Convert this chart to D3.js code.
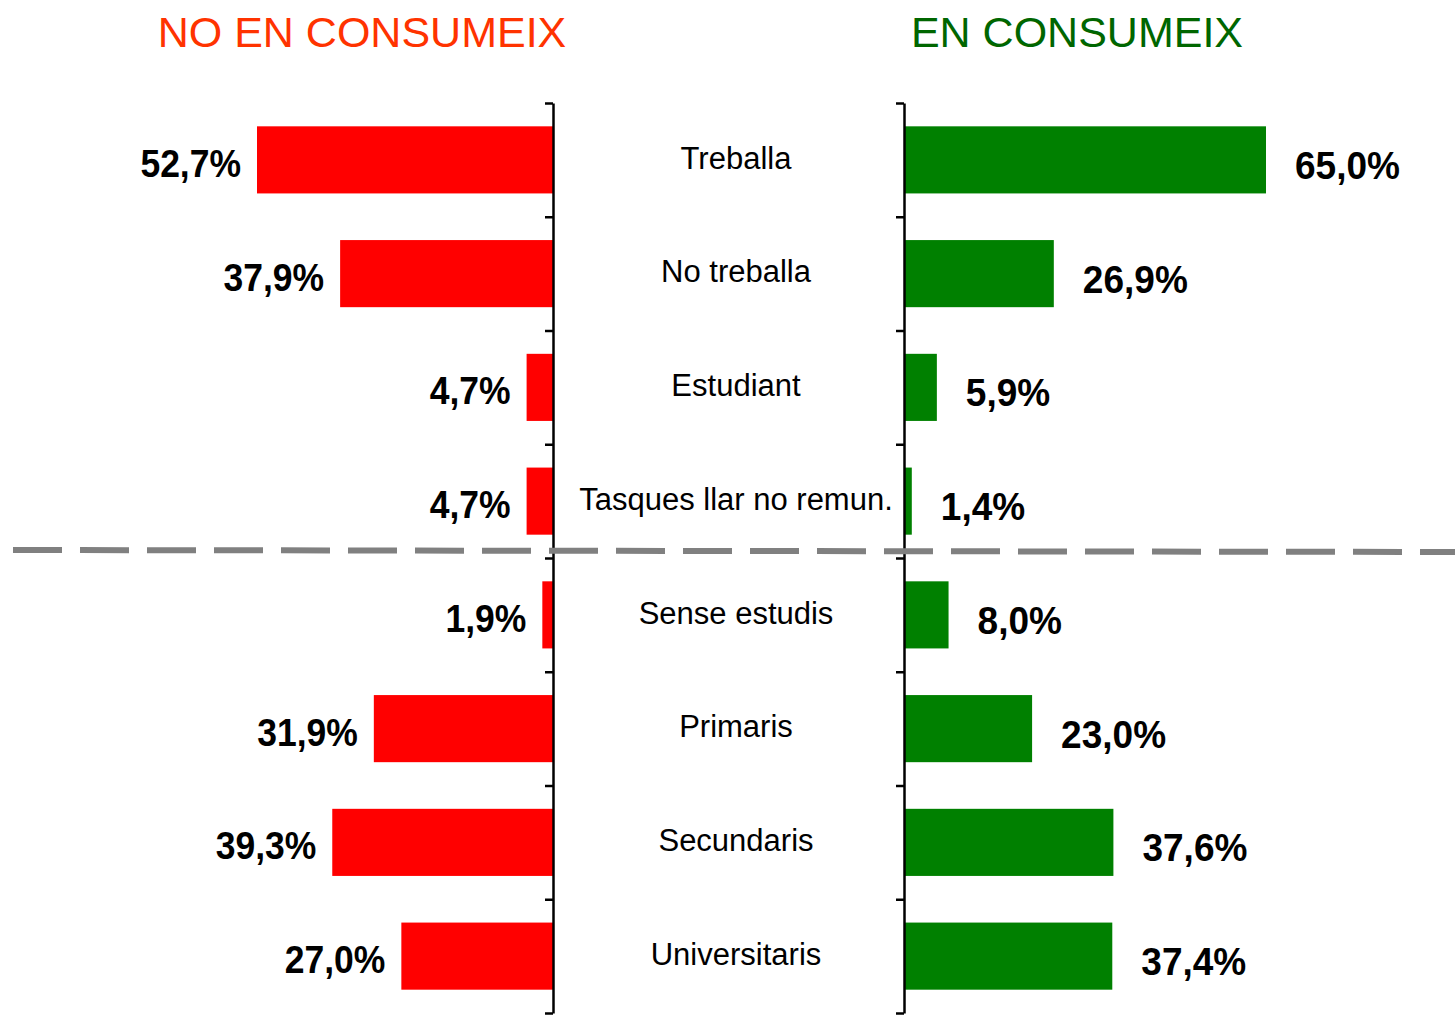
<!DOCTYPE html>
<html>
<head>
<meta charset="utf-8">
<script src="https://cdn.jsdelivr.net/npm/d3@7"></script>
<style>
  body { margin: 0; background: #fff; }
  svg { display: block; font-family: "Liberation Sans", Arial, sans-serif; }
</style>
</head>
<body>
<div id="chart"></div>
<script>
const categories = ["Treballa", "No treballa", "Estudiant", "Tasques llar no remun.",
  "Sense estudis", "Primaris", "Secundaris", "Universitaris"];
const noConsumeix = [52.7, 37.9, 4.7, 4.7, 1.9, 31.9, 39.3, 27.0];
const consumeix = [65.0, 26.9, 5.9, 1.4, 8.0, 23.0, 37.6, 37.4];
const titles = ["NO EN CONSUMEIX", "EN CONSUMEIX"];

const width = 1455, height = 1015;
const leftAxisX = 553, rightAxisX = 904;
const fmt = v => d3.format(".1f")(v).replace(".", ",") + "%";

const svg = d3.select("#chart").append("svg")
  .attr("width", width)
  .attr("height", height);

const y = d3.scaleBand()
  .domain(categories)
  .range([103, 1013])
  .paddingInner(0.41)
  .paddingOuter(0.205);

// left bars grow to the left, right bars to the right
const xl = d3.scaleLinear().domain([0, 52.7]).range([leftAxisX, 257]);
const xr = d3.scaleLinear().domain([0, 65]).range([rightAxisX, 1266]);

// titles
svg.append("text")
  .attr("x", 362).attr("y", 47)
  .attr("text-anchor", "middle")
  .attr("font-size", 43)
  .attr("fill", "#ff3300")
  .text(titles[0]);

svg.append("text")
  .attr("x", 1077).attr("y", 47)
  .attr("text-anchor", "middle")
  .attr("font-size", 43)
  .attr("fill", "#006600")
  .text(titles[1]);

// bars
svg.append("g")
  .attr("fill", "#ff0000")
  .selectAll("rect")
  .data(noConsumeix)
  .join("rect")
  .attr("x", d => xl(d))
  .attr("y", (d, i) => y(categories[i]))
  .attr("width", d => xl(0) - xl(d))
  .attr("height", y.bandwidth());

svg.append("g")
  .attr("fill", "#008000")
  .selectAll("rect")
  .data(consumeix)
  .join("rect")
  .attr("x", xr(0))
  .attr("y", (d, i) => y(categories[i]))
  .attr("width", d => xr(d) - xr(0))
  .attr("height", y.bandwidth());

// axes with ticks at band edges
const axisY = d3.scaleLinear().domain([0, categories.length]).range([103, 1013]);
for (const ax of [leftAxisX, rightAxisX]) {
  svg.append("g")
    .attr("transform", `translate(${ax},0)`)
    .call(d3.axisLeft(axisY).ticks(categories.length).tickSize(8).tickSizeOuter(0).tickFormat(""))
    .call(g => g.select(".domain").attr("stroke-width", 2.5))
    .call(g => g.selectAll(".tick line").attr("stroke-width", 2.5));
}

// category labels
svg.append("g")
  .attr("font-size", 31)
  .attr("text-anchor", "middle")
  .selectAll("text")
  .data(categories)
  .join("text")
  .attr("x", 736)
  .attr("y", d => y(d) + y.bandwidth() / 2)
  .attr("dy", "0.28em")
  .text(d => d);

// value labels
svg.append("g")
  .attr("font-size", 39)
  .attr("font-weight", "bold")
  .attr("text-anchor", "end")
  .selectAll("text")
  .data(noConsumeix)
  .join("text")
  .attr("transform", (d, i) => `translate(${xl(d) - 16},${y(categories[i]) + y.bandwidth() / 2 + 17}) scale(0.91,1)`)
  .text(d => fmt(d));

svg.append("g")
  .attr("font-size", 39)
  .attr("font-weight", "bold")
  .attr("text-anchor", "start")
  .selectAll("text")
  .data(consumeix)
  .join("text")
  .attr("transform", (d, i) => `translate(${xr(d) + 29},${y(categories[i]) + y.bandwidth() / 2 + 19}) scale(0.95,1)`)
  .text(d => fmt(d));

// dashed separator between the two groups
const sepY = axisY(4) - 7;
svg.append("line")
  .attr("x1", 13).attr("x2", width)
  .attr("y1", sepY - 1).attr("y2", sepY + 1)
  .attr("stroke", "#808080")
  .attr("stroke-width", 6)
  .attr("stroke-dasharray", "49,18");
</script>
</body>
</html>
